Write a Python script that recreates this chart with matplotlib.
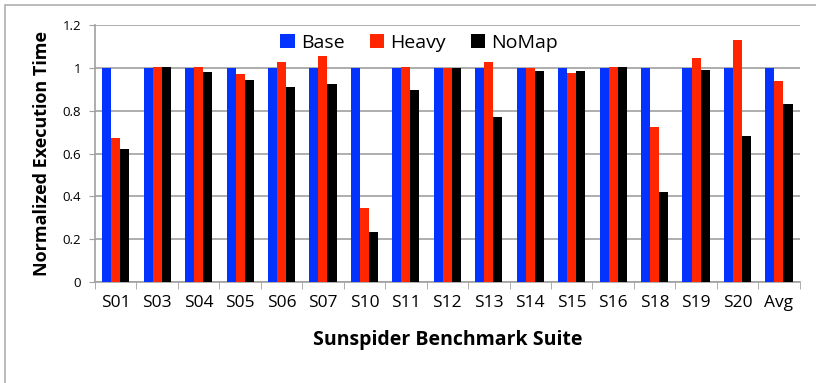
import numpy as np
import matplotlib.pyplot as plt
from matplotlib.patches import Rectangle

plt.rcParams['font.family'] = ['Open Sans', 'DejaVu Sans']

# Sunspider benchmarks, normalized execution time
benchmarks = ['S01', 'S03', 'S04', 'S05', 'S06', 'S07', 'S10', 'S11', 'S12',
              'S13', 'S14', 'S15', 'S16', 'S18', 'S19', 'S20', 'Avg']
base = [1, 1, 1, 1, 1, 1, 1, 1, 1, 1, 1, 1, 1, 1, 1, 1, 1]
heavy = [0.672, 1.006, 1.006, 0.972, 1.028, 1.056, 0.345, 1.006, 1.0,
         1.028, 1.0, 0.978, 1.006, 0.722, 1.048, 1.132, 0.938]
nomap = [0.622, 1.006, 0.98, 0.944, 0.91, 0.924, 0.233, 0.896, 1.0,
         0.77, 0.986, 0.986, 1.006, 0.421, 0.992, 0.68, 0.832]

fig = plt.figure(figsize=(8.16, 3.83), dpi=100)
ax = fig.add_axes([0.1164, 0.2637, 0.8636, 0.671])

# thin gray frame around the chart area
fig.patches.append(Rectangle((5 / 816, -0.1), 1.2, 1 - 5 / 383 + 0.1,
                             transform=fig.transFigure, fill=False,
                             edgecolor='#b0b0b0', linewidth=1.2))

x = np.arange(len(benchmarks))
w = 0.218
ax.bar(x - w, base, w, color='#0433ff', label='Base', zorder=3)
ax.bar(x, heavy, w, color='#ff2600', label='Heavy', zorder=3)
ax.bar(x + w, nomap, w, color='black', label='NoMap', zorder=3)

ax.set_xlim(-0.5, len(benchmarks) - 0.5)
ax.set_ylim(0, 1.2)
ax.set_yticks(np.arange(0, 1.21, 0.2))
ax.set_yticklabels(['0', '0.2', '0.4', '0.6', '0.8', '1', '1.2'], fontsize=9.5)
ax.yaxis.grid(True, color='#a0a0a0', linewidth=1.2, zorder=0)

ax.set_xticks(x)
ax.set_xticklabels(benchmarks, fontsize=12.5)
ax.set_xticks(np.arange(-0.5, len(benchmarks)), minor=True)
ax.tick_params(axis='x', which='major', length=0, pad=9)
ax.tick_params(axis='x', which='minor', length=5, color='#a0a0a0')
ax.tick_params(axis='y', length=4, color='#a0a0a0', pad=6)

for s in ['top', 'right']:
    ax.spines[s].set_visible(False)
for s in ['left', 'bottom']:
    ax.spines[s].set_color('#a0a0a0')
    ax.spines[s].set_linewidth(1.2)

ax.set_ylabel('Normalized Execution Time', fontsize=13, fontweight='bold', labelpad=8)
ax.set_xlabel('Sunspider Benchmark Suite', fontsize=14, fontweight='bold', labelpad=14)

ax.legend(loc='upper center', bbox_to_anchor=(0.46, 1.035), ncol=3, frameon=False,
          fontsize=14, handlelength=0.75, handleheight=0.75, handletextpad=0.3,
          columnspacing=1.3)

fig.savefig('out.png', dpi=100)
